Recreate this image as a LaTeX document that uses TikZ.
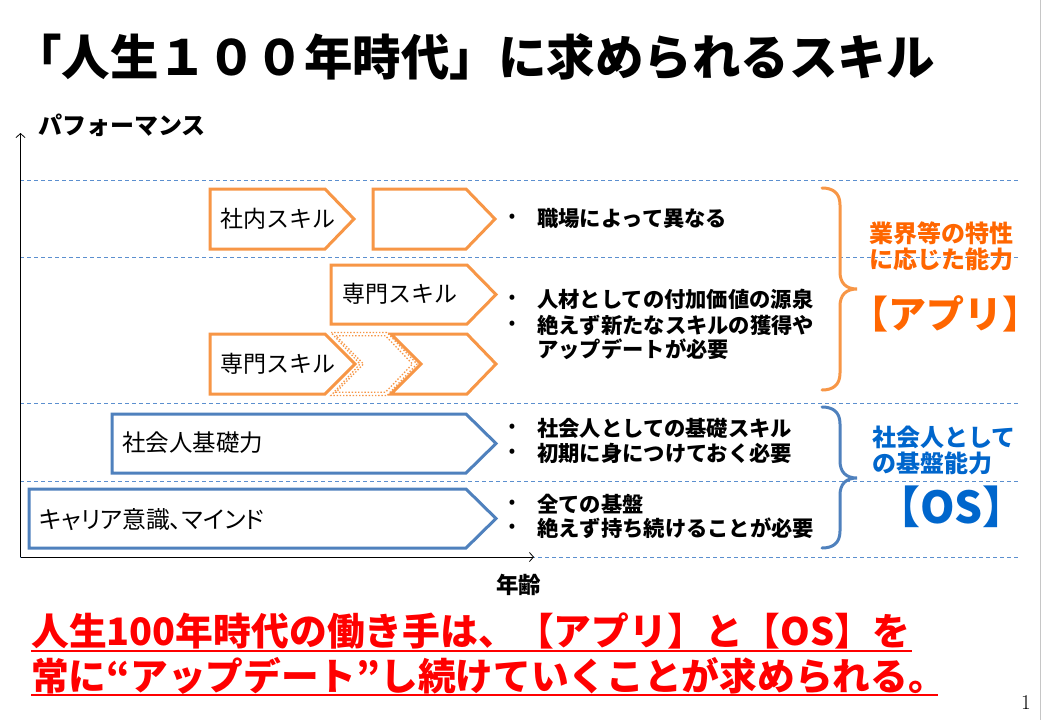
\documentclass[tikz,border=0pt]{standalone}
\usepackage{fontspec}
\newfontfamily\jp{Noto Sans CJK JP}
\newfontfamily\jpp{Noto Sans CJK JP}[RawFeature=+palt]
\usetikzlibrary{arrows.meta,calc}
\definecolor{org}{HTML}{F79646}
\definecolor{blu}{HTML}{4F81BD}
\definecolor{gridc}{HTML}{5B8FCF}
\definecolor{otxt}{HTML}{FF6600}
\definecolor{btxt}{HTML}{0066CC}
\definecolor{redt}{HTML}{FF0000}
\tikzset{
  gridline/.style={gridc, line width=0.9pt, dash pattern=on 4pt off 3pt},
  axisline/.style={black, line width=0.8pt, -{Straight Barb[length=4pt,width=9pt]}},
  obox/.style={draw=org, line width=3pt, fill=white},
  bbox/.style={draw=blu, line width=3pt, fill=white},
  dchev/.style={draw=org, line width=1.3pt, dash pattern=on 1.4pt off 1.8pt},
  brace/.style={line width=3pt, line cap=round},
  lbl/.style={font=\jp\fontsize{23}{23}\selectfont, anchor=base west, inner sep=0},
  bul/.style={font=\jp\bfseries\fontsize{21.3}{25}\selectfont, anchor=base west, inner sep=0},
  dot/.style={font=\jp\bfseries\fontsize{16}{16}\selectfont, anchor=center, inner sep=0},
  side/.style={font=\jp\bfseries\fontsize{24}{24}\selectfont, anchor=base west, inner sep=0},
  big/.style={font=\jp\bfseries\fontsize{38}{38}\selectfont, anchor=base, inner sep=0},
  redline/.style={text=redt, anchor=base west, inner sep=0},
  uline/.style={redt, line width=2.5pt},
}
\begin{document}
\begin{tikzpicture}[x=1pt,y=-1pt]
\useasboundingbox[fill=white] (0,0) rectangle (1041,720);
\draw[gray!45, line width=0.8pt] (1040,0) -- (1040,720);

% title
\node[font=\jp\bfseries\fontsize{48.5}{48.5}\selectfont, anchor=base west, inner sep=0] (title) at (13,75.5) {「人生１００年時代」に求められるスキル};

% grid lines
\foreach \yy in {180,257,403,481,557}
  \draw[gridline] (20,\yy) -- (1020,\yy);

% axes
\coordinate (o) at (20.5,557);
\coordinate (ytop) at (20.5,133);
\coordinate (xend) at (534,557);
\draw[axisline] (o) -- (ytop);
\draw[axisline] (o) -- (xend);
\node[font=\jp\bfseries\fontsize{24}{24}\selectfont, anchor=base west, inner sep=0] (ylab) at (38,134.5) {パフォーマンス};
\node[font=\jp\bfseries\fontsize{22.5}{22.5}\selectfont, anchor=base west, inner sep=0] (xlab) at (496,593.5) {年齢};

% orange arrows
\draw[obox] (210,189) -- (325,189) -- (354,219) -- (325,249) -- (210,249) -- cycle;
\draw[obox] (373,189) -- (466,189) -- (495,219) -- (466,249) -- (373,249) -- cycle;
\draw[obox] (331,265) -- (467,265) -- (496,294.5) -- (467,324) -- (331,324) -- cycle;
\draw[obox] (210,334) -- (325,334) -- (355,364) -- (325,394) -- (210,394) -- cycle;
\draw[dchev] (331,332.5) -- (387,332.5) -- (417,364) -- (387,395.5) -- (331,395.5) -- (360,364) -- cycle;
\draw[dchev] (336,335.8) -- (385.5,335.8) -- (412.5,364) -- (385.5,392.2) -- (336,392.2) -- (363.5,364) -- cycle;
\draw[obox] (391,334) -- (467,334) -- (496,364) -- (467,394) -- (391,394) -- (421,364) -- cycle;
\node[lbl] (s1) at (220,227.7) {社内スキル};
\node[lbl] (s2) at (342,302.7) {専門スキル};
\node[lbl] (s3) at (220,372.7) {専門スキル};

% blue arrows
\draw[bbox] (112,414) -- (466,414) -- (496,443.5) -- (466,473) -- (112,473) -- cycle;
\draw[bbox] (29,489) -- (466,489) -- (496,518.5) -- (466,548) -- (29,548) -- cycle;
\node[lbl, font=\jp\fontsize{23.5}{23.5}\selectfont] (s4) at (122,451.8) {社会人基礎力};
\node[lbl, font=\jpp\fontsize{23.8}{23.8}\selectfont] (s5) at (39,528) {キャリア意識、マインド};

% bullets
\node[dot] (d1) at (512,218) {•};
\node[bul] (b1) at (537,226) {職場によって異なる};
\node[dot] (d2) at (512,299) {•};
\node[bul] (b2) at (537,307) {人材としての付加価値の源泉};
\node[dot] (d3) at (512,325) {•};
\node[bul] (b3) at (537,333) {絶えず新たなスキルの獲得や};
\node[bul] (b4) at (537,357) {アップデートが必要};
\node[dot] (d5) at (512,428) {•};
\node[bul] (b5) at (537,436) {社会人としての基礎スキル};
\node[dot] (d6) at (512,453) {•};
\node[bul] (b6) at (537,461) {初期に身につけておく必要};
\node[dot] (d7) at (512,504) {•};
\node[bul] (b7) at (537,512) {全ての基盤};
\node[dot] (d8) at (512,528) {•};
\node[bul] (b8) at (537,536) {絶えず持ち続けることが必要};

% braces
\draw[brace, org] (822,188) .. controls (833,188) and (840,193) .. (840,205) -- (840,272)
  .. controls (840,283) and (846,289) .. (857,289) .. controls (846,289) and (840,295) .. (840,306)
  -- (840,373) .. controls (840,385) and (833,390) .. (822,390);
\draw[brace, blu] (822,407) .. controls (833,407) and (840,412) .. (840,424) -- (840,461)
  .. controls (840,472) and (846,478) .. (857,478) .. controls (846,478) and (840,484) .. (840,495)
  -- (840,531) .. controls (840,543) and (833,548) .. (822,548);

% side labels
\node[side, text=otxt] (o1) at (869,242) {業界等の特性};
\node[side, text=otxt] (o2) at (869,268) {に応じた能力};
\node[big, text=otxt] (app) at (945.5,328) {【アプリ】};
\node[side, text=btxt] (t1) at (872,446) {社会人として};
\node[side, text=btxt] (t2) at (872,472) {の基盤能力};
\node[big, text=btxt, font=\jp\bfseries\fontsize{44}{44}\selectfont] (os) at (951.5,523) {【OS】};

% bottom message
\node[redline, font=\jp\bfseries\fontsize{37.8}{37.8}\selectfont] (l1) at (31,645) {人生100年時代の働き手は、【アプリ】と【OS】を};
\node[redline, font=\jp\bfseries\fontsize{37.7}{37.7}\selectfont] (l2) at (31,690) {常に“アップデート”し続けていくことが求められる。};
\draw[uline] ([yshift=-6pt]l1.base west) -- ([yshift=-6pt,xshift=2pt]l1.base east);
\draw[uline] ([yshift=-5pt]l2.base west) -- ([yshift=-5pt,xshift=-8pt]l2.base east);

% page number
\node[font=\fontsize{21}{21}\selectfont, inner sep=0] (pg) at (1026,703) {1};
\end{tikzpicture}
\end{document}
